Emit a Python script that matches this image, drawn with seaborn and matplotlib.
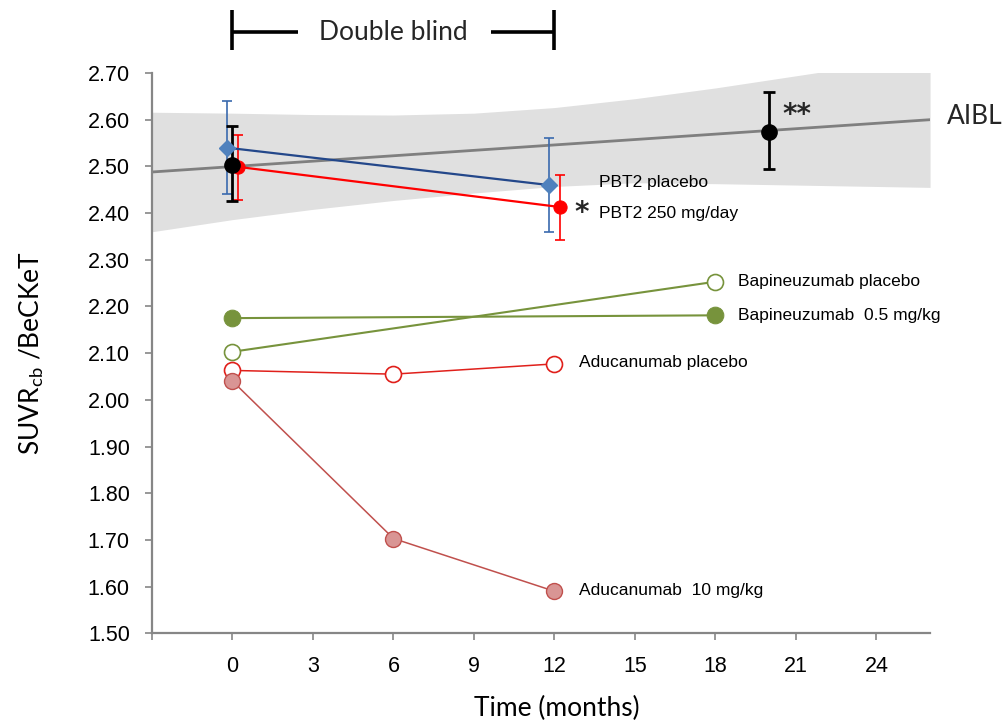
import numpy as np
import pandas as pd

import matplotlib
matplotlib.use("Agg")
import matplotlib.pyplot as plt
import matplotlib.transforms as mtransforms
import seaborn as sns

sns.set_theme(style="ticks")
plt.rcParams["font.family"] = ["Liberation Sans", "DejaVu Sans"]

SPINE = "#868686"
BAND = "#e0e0e0"
AIBL_LINE = "#7f7f7f"
NAVY = "#23478a"
BLUE = "#4f81bd"
RED = "#ff0000"
GREEN = "#77933c"
ADU_RED = "#e0201b"
ADU_LINE = "#c0504d"
ADU_FILL = "#d99594"
TITLE_FONT = ["Lato", "DejaVu Sans"]

# AIBL reference (regression line + confidence band)
aibl_x = [-3, 26]
aibl_y = [2.488, 2.600]
band_x = [-3, 0, 3, 6, 9, 12, 15, 18, 21, 24, 26]
band_lo = [2.360, 2.386, 2.408, 2.427, 2.443, 2.457, 2.465, 2.463, 2.460, 2.457, 2.455]
band_hi = [2.616, 2.614, 2.611, 2.610, 2.614, 2.626, 2.645, 2.668, 2.694, 2.720, 2.740]
aibl_pt_x = [20]
aibl_pt_y = [2.574]
aibl_pt_lo = [2.495]
aibl_pt_hi = [2.660]

# PBT2 trial
pbt2_plc_x = [-0.2, 11.8]
pbt2_plc_y = [2.540, 2.460]
pbt2_plc_lo = [2.440, 2.360]
pbt2_plc_hi = [2.641, 2.560]
pbt2_250_x = [0.2, 12.2]
pbt2_250_y = [2.499, 2.413]
pbt2_250_lo = [2.428, 2.342]
pbt2_250_hi = [2.568, 2.482]
baseline_x = [0]
baseline_y = [2.503]
baseline_lo = [2.425]
baseline_hi = [2.587]

# Bapineuzumab / Aducanumab trials
bapi_plc_x = [0, 18]
bapi_plc_y = [2.103, 2.253]
bapi_05_x = [0, 18]
bapi_05_y = [2.175, 2.181]
adu_plc_x = [0, 6, 12]
adu_plc_y = [2.063, 2.055, 2.077]
adu_10_x = [0, 6, 12]
adu_10_y = [2.040, 1.703, 1.590]

x_ticks = [-3, 0, 3, 6, 9, 12, 15, 18, 21, 24]
x_tick_labels = ["", "0", "3", "6", "9", "12", "15", "18", "21", "24"]
y_ticks = np.round(np.arange(1.5, 2.701, 0.1), 2)

fig = plt.figure(figsize=(10.02, 7.25), dpi=100, facecolor="white")
ax = fig.add_axes([0.1517, 0.1265, 0.7765, 0.7728])
ax.set_facecolor("white")

# band + AIBL regression line
ax.fill_between(band_x, band_lo, band_hi, color=BAND, lw=0, zorder=1)
sns.lineplot(x=aibl_x, y=aibl_y, ax=ax, color=AIBL_LINE, lw=2, zorder=2)


def series(xs, ys, **kw):
    df = pd.DataFrame({"t": xs, "v": ys})
    sns.lineplot(data=df, x="t", y="v", ax=ax, **kw)


def errbars(xs, ys, lo, hi, color, lw, cap):
    ys = np.asarray(ys)
    yerr = [ys - np.asarray(lo), np.asarray(hi) - ys]
    ax.errorbar(xs, ys, yerr=yerr, fmt="none", ecolor=color, elinewidth=lw,
                capsize=cap, capthick=lw, zorder=4)


# PBT2 placebo
errbars(pbt2_plc_x, pbt2_plc_y, pbt2_plc_lo, pbt2_plc_hi, "#3a6aae", 1.2, 3.5)
series(pbt2_plc_x, pbt2_plc_y, color=NAVY, lw=1.6, zorder=5)
ax.plot(pbt2_plc_x, pbt2_plc_y, ls="none", marker="D", ms=8, color=BLUE, zorder=6)

# PBT2 250 mg/day
errbars(pbt2_250_x, pbt2_250_y, pbt2_250_lo, pbt2_250_hi, RED, 1.2, 3.5)
series(pbt2_250_x, pbt2_250_y, color=RED, lw=1.6, marker="o", ms=9.5,
       markeredgecolor=RED, zorder=6)

# baseline + AIBL point
errbars(baseline_x, baseline_y, baseline_lo, baseline_hi, "black", 2, 4)
ax.plot(baseline_x, baseline_y, ls="none", marker="o", ms=11, color="black", zorder=7)
errbars(aibl_pt_x, aibl_pt_y, aibl_pt_lo, aibl_pt_hi, "black", 2, 4)
ax.plot(aibl_pt_x, aibl_pt_y, ls="none", marker="o", ms=11, color="black", zorder=7)

# Bapineuzumab
series(bapi_plc_x, bapi_plc_y, color=GREEN, lw=1.5, marker="o", ms=11.5,
       markerfacecolor="white", markeredgecolor=GREEN, markeredgewidth=1.2, zorder=5)
series(bapi_05_x, bapi_05_y, color=GREEN, lw=1.5, marker="o", ms=12,
       markerfacecolor=GREEN, markeredgecolor=GREEN, zorder=5)

# Aducanumab
series(adu_plc_x, adu_plc_y, color=ADU_RED, lw=1.1, marker="o", ms=11.5,
       markerfacecolor="white", markeredgecolor=ADU_RED, markeredgewidth=1.2, zorder=5)
series(adu_10_x, adu_10_y, color=ADU_LINE, lw=1.1, marker="o", ms=11.5,
       markerfacecolor=ADU_FILL, markeredgecolor=ADU_LINE, markeredgewidth=1.0, zorder=5)

# axes styling
ax.set_xlim(-3, 26)
ax.set_ylim(1.5, 2.7)
ax.set_xticks(x_ticks)
ax.set_xticklabels(x_tick_labels)
ax.set_yticks(y_ticks)
ax.set_yticklabels([f"{v:.2f}" for v in y_ticks])
ax.tick_params(axis="both", direction="out", length=5, width=1.2, color=SPINE,
               labelsize=15.5, labelcolor="black", pad=11)
for side in ["top", "right"]:
    ax.spines[side].set_visible(False)
for side in ["left", "bottom"]:
    ax.spines[side].set_color(SPINE)
    ax.spines[side].set_linewidth(1.6)
ax.grid(False)

ax.set_xlabel("Time (months)", fontsize=19, family=TITLE_FONT, color="black")
ax.xaxis.set_label_coords(0.52, -0.112)
ax.set_ylabel(r"SUVR$_{\mathregular{cb}}$ /BeCKeT", fontsize=19, family=TITLE_FONT,
              color="black")
ax.yaxis.set_label_coords(-0.136, 0.5)

# series labels
lbl = dict(fontsize=12.5, color="black", va="center", ha="left")
ax.text(13.67, 2.465, "PBT2 placebo", **lbl)
ax.text(13.67, 2.400, "PBT2 250 mg/day", **lbl)
ax.text(18.86, 2.253, "Bapineuzumab placebo", **lbl)
ax.text(18.86, 2.180, "Bapineuzumab  0.5 mg/kg", **lbl)
ax.text(12.92, 2.080, "Aducanumab placebo", **lbl)
ax.text(12.92, 1.592, "Aducanumab  10 mg/kg", **lbl)
star = dict(fontsize=20, fontweight="bold", family=["DejaVu Sans"],
            va="center", ha="center")
ax.text(13.0, 2.400, "*", **star)
ax.text(21.05, 2.610, "**", **star)
ax.text(26.63, 2.606, "AIBL", fontsize=19, family=TITLE_FONT, va="center", ha="left",
        clip_on=False)

# "Double blind" bracket above the axes
trans = mtransforms.blended_transform_factory(ax.transData, ax.transAxes)
bk = dict(color="black", lw=2.6, transform=trans, clip_on=False, solid_capstyle="butt")
ax.plot([0, 0], [1.041, 1.1125], **bk)
ax.plot([12, 12], [1.041, 1.1125], **bk)
ax.plot([0, 2.43], [1.073, 1.073], **bk)
ax.plot([9.64, 12], [1.073, 1.073], **bk)
ax.text(6, 1.073, "Double blind", transform=trans, fontsize=19, family=TITLE_FONT,
        ha="center", va="center")

fig.savefig("out.png", dpi=100, facecolor="white")
